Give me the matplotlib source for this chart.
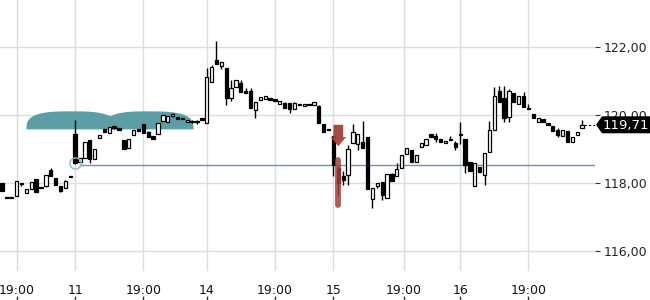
import numpy as np
import matplotlib.pyplot as plt
from matplotlib.patches import Polygon
from matplotlib.transforms import blended_transform_factory

# hourly candles, one entry per bar (open, high, low, close)
opens = [117.99, 117.58, 117.58, 117.62, 118.00, 117.70, 117.83, 118.12, 117.88, 117.91,
         118.38, 118.14, 117.91, 117.84, 118.20, 119.44, 118.63, 118.74, 119.26, 118.70,
         119.31, 119.58, 119.48, 119.66, 119.59, 119.26, 119.02, 119.41, 119.58, 119.74,
         119.49, 119.39, 119.43, 119.82, 119.78, 119.98, 119.95, 119.91, 119.78, 119.83,
         119.82, 119.88, 119.76, 120.98, 121.62, 121.45, 121.39, 120.49, 120.83, 120.93,
         120.71, 120.71, 120.15, 120.45, 120.47, 120.49, 120.47, 120.31, 120.36, 120.34,
         120.18, 120.30, 120.26, 120.33, 120.29, 120.27, 119.73, 119.57, 119.39, 118.45,
         118.21, 118.24, 119.17, 119.14, 119.20, 119.34, 117.53, 117.92, 118.02, 117.57,
         118.26, 118.21, 118.45, 118.84, 118.97, 118.61, 119.05, 119.11, 119.44, 119.38,
         119.29, 119.17, 119.26, 119.17, 119.44, 119.29, 118.61, 117.91, 118.46, 118.24,
         118.90, 119.56, 120.69, 120.49, 119.95, 120.64, 120.31, 120.57, 120.21, 120.02,
         119.80, 119.88, 119.76, 119.66, 119.56, 119.39, 119.53, 119.20, 119.41, 119.62]
closes = [117.77, 117.56, 117.56, 118.07, 117.96, 117.81, 118.02, 117.74, 117.86, 118.23,
          118.19, 117.94, 117.76, 118.07, 118.18, 118.58, 118.73, 119.21, 118.70, 119.00,
          119.41, 119.51, 119.64, 119.62, 119.57, 118.99, 119.29, 119.56, 119.54, 119.46,
          119.34, 119.28, 119.77, 120.00, 119.97, 120.01, 119.87, 119.87, 119.85, 119.80,
          119.79, 119.86, 121.13, 121.40, 121.49, 121.55, 120.49, 120.80, 121.03, 120.67,
          120.64, 120.20, 120.39, 120.53, 120.57, 120.45, 120.42, 120.41, 120.20, 120.18,
          120.34, 120.28, 120.31, 120.29, 120.37, 119.76, 119.51, 119.55, 118.53, 117.99,
          118.09, 119.00, 119.51, 119.43, 119.04, 117.82, 117.84, 117.99, 117.65, 118.26,
          118.06, 118.41, 118.82, 119.04, 118.61, 118.82, 119.17, 119.29, 119.34, 119.29,
          119.19, 119.24, 119.25, 119.05, 119.40, 118.53, 118.36, 118.58, 118.31, 118.87,
          119.55, 120.56, 120.39, 119.92, 120.71, 120.39, 120.57, 120.24, 120.17, 119.90,
          119.92, 119.78, 119.71, 119.53, 119.41, 119.56, 119.20, 119.36, 119.51, 119.71]
highs = [118.00, 117.58, 117.58, 118.07, 118.01, 117.81, 118.02, 118.12, 117.88, 118.23,
         118.44, 118.14, 117.91, 118.10, 118.20, 119.85, 118.73, 119.21, 119.26, 119.00,
         119.41, 119.60, 119.64, 119.68, 119.59, 119.26, 119.29, 119.56, 119.58, 119.74,
         119.52, 119.39, 119.77, 120.00, 119.97, 120.05, 119.95, 119.91, 119.85, 119.86,
         119.84, 119.88, 121.37, 121.47, 122.16, 121.55, 121.39, 121.03, 121.03, 121.03,
         120.78, 120.78, 120.39, 120.53, 120.57, 120.49, 120.47, 120.41, 120.39, 120.34,
         120.37, 120.30, 120.31, 120.33, 120.37, 120.30, 119.73, 119.57, 119.39, 118.50,
         118.35, 119.12, 119.73, 119.43, 119.82, 119.34, 117.84, 117.99, 118.02, 118.26,
         118.30, 118.59, 118.82, 119.04, 118.97, 118.82, 119.17, 119.29, 119.44, 119.47,
         119.29, 119.24, 119.38, 119.24, 119.78, 119.29, 118.61, 118.58, 118.46, 118.87,
         119.82, 120.83, 120.85, 120.86, 120.75, 120.64, 120.57, 120.66, 120.32, 120.02,
         119.92, 119.88, 119.76, 119.66, 119.62, 119.56, 119.53, 119.36, 119.51, 119.85]
lows = [117.77, 117.56, 117.56, 117.62, 117.90, 117.70, 117.83, 117.74, 117.86, 117.88,
        118.19, 117.94, 117.72, 117.84, 118.18, 118.55, 118.62, 118.74, 118.58, 118.70,
        119.31, 119.51, 119.48, 119.58, 119.57, 118.99, 119.02, 119.41, 119.54, 119.46,
        119.34, 119.28, 119.43, 119.82, 119.78, 119.95, 119.87, 119.87, 119.78, 119.75,
        119.74, 119.86, 119.76, 120.98, 121.49, 121.34, 120.29, 120.40, 120.83, 120.67,
        120.64, 120.20, 119.92, 120.45, 120.47, 120.45, 120.42, 120.31, 120.20, 120.05,
        120.18, 120.28, 120.26, 120.29, 120.29, 119.76, 119.51, 119.55, 118.21, 117.65,
        117.95, 117.94, 119.17, 118.97, 119.04, 117.82, 117.25, 117.86, 117.50, 117.57,
        118.06, 118.21, 118.45, 118.84, 118.61, 118.61, 119.05, 119.11, 119.34, 119.20,
        119.19, 119.17, 119.25, 118.97, 119.14, 118.29, 118.36, 117.91, 118.31, 117.94,
        118.90, 119.56, 120.39, 119.80, 119.80, 120.39, 120.31, 120.24, 120.17, 119.90,
        119.80, 119.78, 119.71, 119.53, 119.36, 119.39, 119.20, 119.20, 119.41, 119.62]

tick_pos = [3, 15, 29, 42, 56, 68, 82.5, 94, 108]
tick_labels = ["19:00", "11", "19:00", "14", "19:00", "15", "19:00", "16", "19:00"]
price_ticks = [116, 118, 120, 122]

last_price = 119.71
ref_level = 118.52      # horizontal reference line, starts at bar 15
ref_start = 15

# teal event humps (start bar, end bar) and their base / top price
hump_start = [4.9, 20.8]
hump_end = [23.4, 39.2]
hump_base = 119.59
hump_top = 120.12

# red signal on bar 69
signal_bar = 69
arrow_top, arrow_neck, arrow_tip = 119.71, 119.35, 119.08
signal_bar_top, signal_bar_bottom = 118.68, 117.36

TEAL = '#5b9ea6'
RED = '#a3413b'

fig = plt.figure(figsize=(6.5, 3.0), dpi=100)
ax = fig.add_axes([0, 29 / 300, 595 / 650, 271 / 300])

x = np.arange(len(opens))
o = np.array(opens)
c = np.array(closes)
up = c >= o

# humps behind everything
for s, e in zip(hump_start, hump_end):
    xs = np.linspace(s, e, 200)
    t = (xs - (s + e) / 2) / ((e - s) / 2)
    prof = (1 - np.abs(t) ** 3).clip(0) ** (1 / 3)
    ax.fill_between(xs, hump_base, hump_base + (hump_top - hump_base) * prof,
                    color=TEAL, lw=0, zorder=1.5)

# reference line + circle
ax.hlines(ref_level, ref_start + 0.8, 125, color=TEAL, lw=1, zorder=1.8)
ax.plot([ref_start], [ref_level + 0.07], marker='o', ms=8, mfc='none',
        mec='#8cbcc2', mew=1, zorder=4)

# candles
ax.vlines(x, lows, highs, color='black', lw=1, zorder=2)
bottoms = np.minimum(o, c)
heights = np.maximum(np.abs(c - o), 0.035)
ax.bar(x[up], heights[up], bottom=bottoms[up], width=0.68,
       facecolor='white', edgecolor='black', lw=0.9, zorder=3)
ax.bar(x[~up], heights[~up], bottom=bottoms[~up], width=0.68,
       facecolor='black', edgecolor='black', lw=0.9, zorder=3)

# red signal
ax.add_patch(Polygon([[signal_bar - 1.0, arrow_top], [signal_bar + 1.0, arrow_top],
                      [signal_bar + 1.0, arrow_neck], [signal_bar + 1.6, arrow_neck],
                      [signal_bar, arrow_tip], [signal_bar - 1.6, arrow_neck],
                      [signal_bar - 1.0, arrow_neck]],
                     closed=True, facecolor=RED, edgecolor='none', alpha=0.95, zorder=5))
ax.plot([signal_bar, signal_bar], [signal_bar_top, signal_bar_bottom], color=RED,
        lw=4.2, solid_capstyle='round', alpha=0.85, zorder=5)

# last price dashed line
ax.hlines(last_price, len(opens) - 0.5, 125, color='black', lw=0.8,
          linestyles=(0, (2, 2)), zorder=4)

ax.set_xlim(-0.41, 121.66)
ax.set_ylim(115.41, 123.38)
ax.set_xticks(tick_pos)
ax.set_xticklabels(tick_labels)
ax.set_yticks(price_ticks)
ax.set_yticklabels([f"{p:.2f}".replace('.', ',') for p in price_ticks])
ax.yaxis.tick_right()
ax.tick_params(axis='x', length=0, pad=9, labelsize=9, labelcolor='#111111')
ax.tick_params(axis='y', length=3.5, width=0.8, color='#333333', pad=3,
               labelsize=9, labelcolor='#222222')
ax.grid(True, color='#dcdcdc', lw=1, zorder=0)
ax.set_axisbelow(True)
for sp in ax.spines.values():
    sp.set_visible(False)

# last price tag (drawn over the 120,00 label, as in the source)
tr = blended_transform_factory(fig.transFigure, ax.transData)
x0 = 596 / 650
x1 = 602 / 650
h = 0.25
ax.add_patch(Polygon([[x0, last_price], [x1, last_price + h], [1.0, last_price + h],
                      [1.0, last_price - h], [x1, last_price - h]], closed=True,
                     transform=tr, facecolor='black', edgecolor='none',
                     clip_on=False, zorder=6))
ax.text(626 / 650, last_price - 0.01, f"{last_price:.2f}".replace('.', ','), transform=tr,
        ha='center', va='center', color='white', fontsize=9.5, zorder=7, clip_on=False)

# small tick marks at the very bottom
bx = fig.add_axes([0, 0, 595 / 650, 4 / 300])
bx.set_xlim(-0.41, 121.66)
bx.set_ylim(0, 1)
bx.vlines(tick_pos, 0, 1, color='#333333', lw=1)
bx.axis('off')

fig.savefig('out.png', dpi=100)
